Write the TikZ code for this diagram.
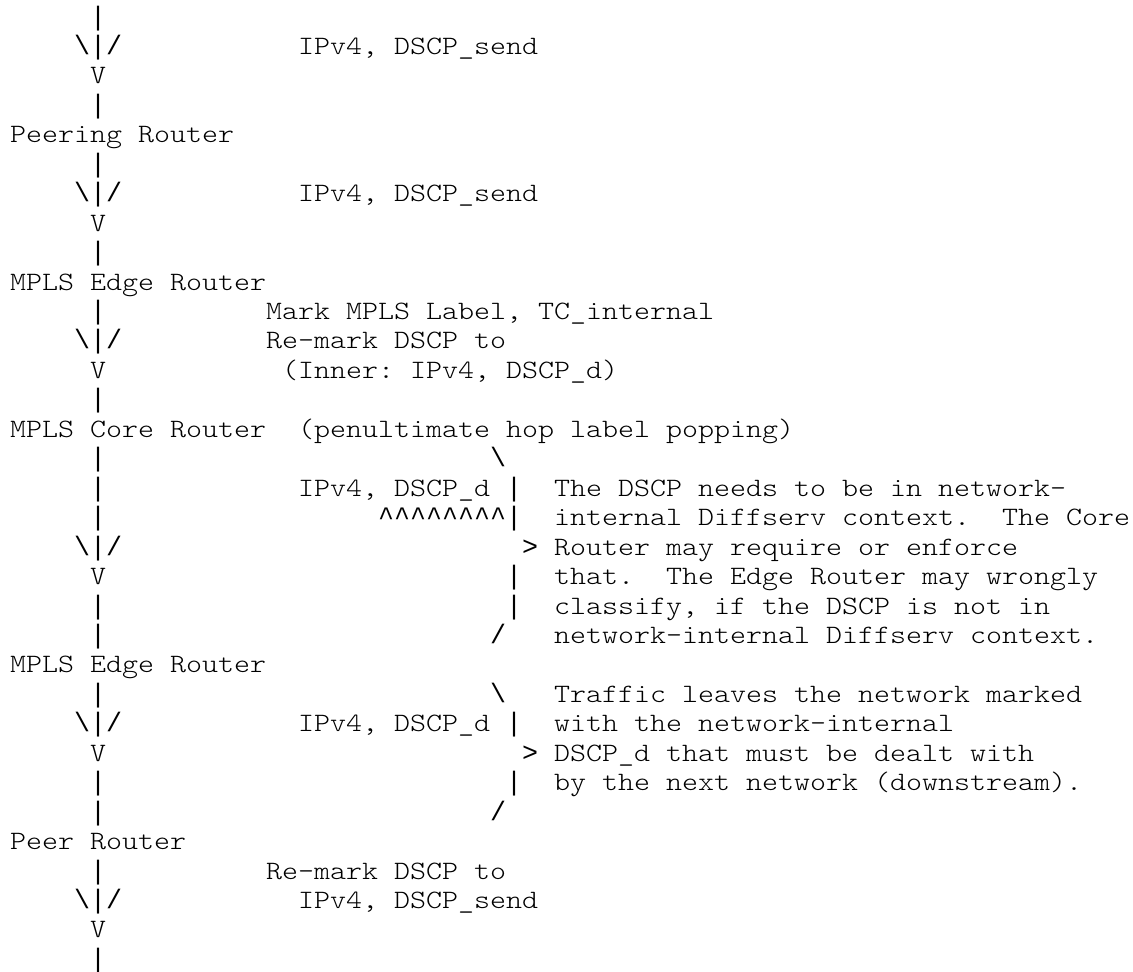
\documentclass[tikz,border=0pt]{standalone}
\usepackage{fontspec}
\newfontfamily\asciifont{lmmonolt10-regular.otf}[FakeStretch=1.15]
\newfontfamily\barfont{Liberation Mono}
\tikzset{%
asc/.style={anchor=base west,inner sep=0pt},
router/.style={asc,font=\asciifont\fontsize{26.5pt}{29.45pt}\selectfont},
note/.style={router},
pipe/.style={asc,font=\barfont\fontsize{26.67pt}{29.45pt}\selectfont},
tip/.style={router}
}

\begin{document}
\frenchspacing
\begin{tikzpicture}[x=16pt,y=-29.45pt]

    \useasboundingbox (0pt,0pt) rectangle (1133pt,-972pt);

    \begin{scope}[shift={(10pt,-25pt)}]

    % routers
    \node[router] (peering) at (0,4) {Peering Router};
    \node[router] (edge1) at (0,9) {MPLS Edge Router};
    \node[router] (core) at (0,14) {MPLS Core Router};
    \node[router] (edge2) at (0,22) {MPLS Edge Router};
    \node[router] (peer) at (0,28) {Peer Router};

    % trunk between them
    \node[pipe] (p0) at (5,0) {|};
    \node[pipe] (p1) at (4,1) {\textbackslash|/};
    \node[tip] (p2) at (5,2) {V};
    \node[pipe] (p3) at (5,3) {|};

    \node[pipe] (p5) at (5,5) {|};
    \node[pipe] (p6) at (4,6) {\textbackslash|/};
    \node[tip] (p7) at (5,7) {V};
    \node[pipe] (p8) at (5,8) {|};

    \node[pipe] (p10) at (5,10) {|};
    \node[pipe] (p11) at (4,11) {\textbackslash|/};
    \node[tip] (p12) at (5,12) {V};
    \node[pipe] (p13) at (5,13) {|};

    \node[pipe] (p15) at (5,15) {|};
    \node[pipe] (p16) at (5,16) {|};
    \node[pipe] (p17) at (5,17) {|};
    \node[pipe] (p18) at (4,18) {\textbackslash|/};
    \node[tip] (p19) at (5,19) {V};
    \node[pipe] (p20) at (5,20) {|};
    \node[pipe] (p21) at (5,21) {|};

    \node[pipe] (p23) at (5,23) {|};
    \node[pipe] (p24) at (4,24) {\textbackslash|/};
    \node[tip] (p25) at (5,25) {V};
    \node[pipe] (p26) at (5,26) {|};
    \node[pipe] (p27) at (5,27) {|};

    \node[pipe] (p29) at (5,29) {|};
    \node[pipe] (p30) at (4,30) {\textbackslash|/};
    \node[tip] (p31) at (5,31) {V};
    \node[pipe] (p32) at (5,32) {|};

    % packet labels
    \node[note] (pk1) at (18,1) {IPv4, DSCP\_send};
    \node[note] (pk2) at (18,6) {IPv4, DSCP\_send};
    \node[note] (mk1) at (16,10) {Mark MPLS Label, TC\_internal};
    \node[note] (mk2) at (16,11) {Re-mark DSCP to};
    \node[note] (mk3) at (17,12) {(Inner: IPv4, DSCP\_d)};
    \node[note] (php) at (18,14) {(penultimate hop label popping)};
    \node[note] (pk3) at (18,16) {IPv4, DSCP\_d};
    \node[note] (pk4) at (18,24) {IPv4, DSCP\_d};
    \node[note] (mk4) at (16,29) {Re-mark DSCP to};
    \node[note] (pk5) at (18,30) {IPv4, DSCP\_send};

    % first brace
    \node[pipe] (b1a) at (30,15) {\textbackslash};
    \node[pipe] (b1b) at (31,16) {|};
    \node[pipe] (b1c) at (23,17) {\string^\string^\string^\string^\string^\string^\string^\string^|};
    \node[pipe] (b1d) at (32,18) {>};
    \node[pipe] (b1e) at (31,19) {|};
    \node[pipe] (b1f) at (31,20) {|};
    \node[pipe] (b1g) at (30,21) {/};

    \node[note] (c1) at (34,16) {The DSCP needs to be in network-};
    \node[note] (c2) at (34,17) {internal Diffserv context.~~The Core};
    \node[note] (c3) at (34,18) {Router may require or enforce};
    \node[note] (c4) at (34,19) {that.~~The Edge Router may wrongly};
    \node[note] (c5) at (34,20) {classify, if the DSCP is not in};
    \node[note] (c6) at (34,21) {network-internal Diffserv context.};

    % second brace
    \node[pipe] (b2a) at (30,23) {\textbackslash};
    \node[pipe] (b2b) at (31,24) {|};
    \node[pipe] (b2c) at (32,25) {>};
    \node[pipe] (b2d) at (31,26) {|};
    \node[pipe] (b2e) at (30,27) {/};

    \node[note] (d1) at (34,23) {Traffic leaves the network marked};
    \node[note] (d2) at (34,24) {with the network-internal};
    \node[note] (d3) at (34,25) {DSCP\_d that must be dealt with};
    \node[note] (d4) at (34,26) {by the next network (downstream).};

    \end{scope}
  \end{tikzpicture}
\end{document}
